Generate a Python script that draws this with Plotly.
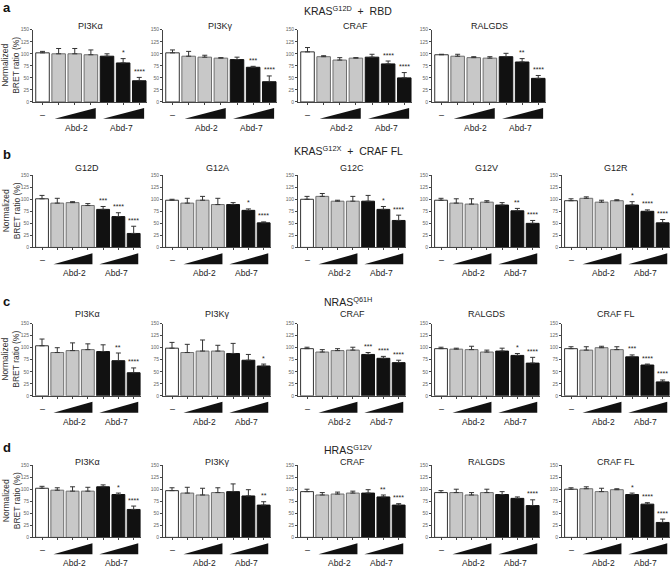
import plotly.graph_objects as go

W, H = 672, 576

# ---------------- data ----------------
conditions = ["ctrl", "Abd-2 low", "Abd-2 mid", "Abd-2 high", "Abd-7 low", "Abd-7 mid", "Abd-7 high"]

# row a: KRAS G12D + RBD
a_pi3ka = [102, 100, 100, 98, 95, 81, 44]
a_pi3ka_err = [3, 11, 11, 10, 5, 9, 7]
a_pi3ka_sig = ["", "", "", "", "", "*", "****"]
a_pi3kg = [102, 95, 93, 91, 88, 72, 42]
a_pi3kg_err = [6, 10, 4, 1, 5, 2, 12]
a_pi3kg_sig = ["", "", "", "", "", "***", "****"]
a_craf = [104, 94, 87, 91, 93, 79, 50]
a_craf_err = [9, 2, 5, 1, 6, 6, 11]
a_craf_sig = ["", "", "", "", "", "****", "****"]
a_ralgds = [98, 95, 92, 91, 94, 83, 49]
a_ralgds_err = [1, 4, 2, 3, 7, 7, 6]
a_ralgds_sig = ["", "", "", "", "", "**", "****"]

# row b: KRAS G12X + CRAF FL
b_g12d = [101, 92, 93, 87, 79, 64, 29]
b_g12d_err = [7, 10, 2, 4, 6, 8, 15]
b_g12d_sig = ["", "", "", "", "***", "****", "****"]
b_g12a = [98, 92, 98, 89, 89, 77, 51]
b_g12a_err = [2, 10, 8, 13, 4, 3, 2]
b_g12a_sig = ["", "", "", "", "", "*", "****"]
b_g12c = [100, 106, 96, 96, 96, 79, 56]
b_g12c_err = [6, 6, 2, 10, 12, 6, 11]
b_g12c_sig = ["", "", "", "", "", "*", "****"]
b_g12v = [98, 92, 90, 94, 88, 76, 50]
b_g12v_err = [4, 9, 11, 3, 5, 5, 6]
b_g12v_sig = ["", "", "", "", "", "**", "****"]
b_g12r = [97, 102, 94, 97, 88, 75, 51]
b_g12r_err = [4, 3, 4, 2, 7, 3, 7]
b_g12r_sig = ["", "", "", "", "*", "****", "****"]

# row c: NRAS Q61H
c_pi3ka = [104, 90, 94, 96, 92, 73, 48]
c_pi3ka_err = [14, 10, 16, 12, 14, 16, 10]
c_pi3ka_sig = ["", "", "", "", "", "**", "****"]
c_pi3kg = [99, 90, 93, 93, 88, 74, 62]
c_pi3kg_err = [12, 17, 23, 12, 21, 12, 4]
c_pi3kg_sig = ["", "", "", "", "", "", "*"]
c_craf = [98, 91, 94, 95, 86, 78, 69]
c_craf_err = [3, 5, 4, 6, 4, 4, 5]
c_craf_sig = ["", "", "", "", "***", "****", "****"]
c_ralgds = [98, 97, 96, 91, 93, 84, 68]
c_ralgds_err = [3, 2, 7, 4, 6, 4, 12]
c_ralgds_sig = ["", "", "", "", "", "*", "****"]
c_craffl = [98, 95, 100, 96, 81, 64, 29]
c_craffl_err = [4, 7, 3, 6, 4, 2, 4]
c_craffl_sig = ["", "", "", "", "***", "****", "****"]

# row d: HRAS G12V
d_pi3ka = [102, 98, 96, 96, 105, 89, 58]
d_pi3ka_err = [4, 5, 9, 8, 4, 3, 7]
d_pi3ka_sig = ["", "", "", "", "", "*", "****"]
d_pi3kg = [97, 92, 88, 93, 95, 86, 67]
d_pi3kg_err = [6, 12, 14, 10, 16, 13, 7]
d_pi3kg_sig = ["", "", "", "", "", "", "**"]
d_craf = [95, 88, 90, 92, 92, 84, 67]
d_craf_err = [5, 5, 4, 4, 7, 4, 3]
d_craf_sig = ["", "", "", "", "", "**", "****"]
d_ralgds = [93, 93, 88, 93, 89, 81, 66]
d_ralgds_err = [4, 7, 5, 7, 6, 3, 12]
d_ralgds_sig = ["", "", "", "", "", "", "****"]
d_craffl = [100, 101, 95, 99, 89, 69, 31]
d_craffl_err = [3, 4, 7, 2, 3, 3, 7]
d_craffl_sig = ["", "", "", "", "*", "****", "****"]

y_ticks = [0, 25, 50, 75, 100, 125, 150]

rows = [
    ("a", "KRAS<sup>G12D</sup>  +  RBD", [
        ("PI3Kα", a_pi3ka, a_pi3ka_err, a_pi3ka_sig),
        ("PI3Kγ", a_pi3kg, a_pi3kg_err, a_pi3kg_sig),
        ("CRAF", a_craf, a_craf_err, a_craf_sig),
        ("RALGDS", a_ralgds, a_ralgds_err, a_ralgds_sig)]),
    ("b", "KRAS<sup>G12X</sup>  +  CRAF FL", [
        ("G12D", b_g12d, b_g12d_err, b_g12d_sig),
        ("G12A", b_g12a, b_g12a_err, b_g12a_sig),
        ("G12C", b_g12c, b_g12c_err, b_g12c_sig),
        ("G12V", b_g12v, b_g12v_err, b_g12v_sig),
        ("G12R", b_g12r, b_g12r_err, b_g12r_sig)]),
    ("c", "NRAS<sup>Q61H</sup>", [
        ("PI3Kα", c_pi3ka, c_pi3ka_err, c_pi3ka_sig),
        ("PI3Kγ", c_pi3kg, c_pi3kg_err, c_pi3kg_sig),
        ("CRAF", c_craf, c_craf_err, c_craf_sig),
        ("RALGDS", c_ralgds, c_ralgds_err, c_ralgds_sig),
        ("CRAF FL", c_craffl, c_craffl_err, c_craffl_sig)]),
    ("d", "HRAS<sup>G12V</sup>", [
        ("PI3Kα", d_pi3ka, d_pi3ka_err, d_pi3ka_sig),
        ("PI3Kγ", d_pi3kg, d_pi3kg_err, d_pi3kg_sig),
        ("CRAF", d_craf, d_craf_err, d_craf_sig),
        ("RALGDS", d_ralgds, d_ralgds_err, d_ralgds_sig),
        ("CRAF FL", d_craffl, d_craffl_err, d_craffl_sig)]),
]

# ---------------- layout geometry (pixels) ----------------
row_bottom = [100, 247, 397, 540]
row_title_y = [23, 167, 314, 464]
row_heading_y = [8, 149, 302, 451]
row_letter_y = [5, 153, 302, 449]
row_panel_w = [114, 108, 108, 108]
plot_h = 73
panel_left = [33, 163, 298, 432, 562]
heading_x = 348

FONT = "Liberation Sans, Arial, Helvetica, sans-serif"
fill_colors = ["#ffffff", "#c8c8c8", "#c8c8c8", "#c8c8c8", "#111111", "#111111", "#111111"]
line_colors = ["#333333", "#6e6e6e", "#6e6e6e", "#6e6e6e", "#111111", "#111111", "#111111"]

xs = list(range(len(conditions)))

fig = go.Figure()
annotations = []
shapes = []
layout = {}

def px(v):
    return min(max(v / W, 0.0), 1.0)

def py(v):
    return 1 - v / H

idx = 0
for r, (letter, heading, panels) in enumerate(rows):
    bot = row_bottom[r]
    top = bot - plot_h
    panel_w = row_panel_w[r]
    annotations.append(dict(text="<b>%s</b>" % letter, x=px(1), y=py(row_letter_y[r]), xref="paper", yref="paper",
                            xanchor="left", yanchor="middle", showarrow=False, font=dict(size=13, color="#111")))
    annotations.append(dict(text=heading, x=px(heading_x), y=py(row_heading_y[r]), xref="paper", yref="paper",
                            xanchor="center", yanchor="middle", showarrow=False, font=dict(size=10.5, color="#222")))
    annotations.append(dict(text="Normalized<br>BRET ratio (%)", x=px(11), y=py(bot - plot_h / 2), xref="paper", yref="paper",
                            xanchor="center", yanchor="middle", textangle=-90, showarrow=False,
                            font=dict(size=8.5, color="#333")))
    for p, (title, vals, errs, sigs) in enumerate(panels):
        idx += 1
        xn = "x" if idx == 1 else "x%d" % idx
        yn = "y" if idx == 1 else "y%d" % idx
        x0 = panel_left[p]
        layout["xaxis" if idx == 1 else "xaxis%d" % idx] = dict(
            domain=[px(x0), px(x0 + panel_w)], anchor=yn, range=[-0.59, 6.48],
            showline=True, linecolor="#444", linewidth=1, ticks="outside", ticklen=2, tickwidth=0.8,
            tickcolor="#444", tickvals=xs, showticklabels=False, showgrid=False, zeroline=False)
        layout["yaxis" if idx == 1 else "yaxis%d" % idx] = dict(
            domain=[py(bot), py(top)], anchor=xn, range=[0, 150], tickvals=y_ticks,
            showline=True, linecolor="#444", linewidth=1, ticks="outside", ticklen=2, tickwidth=0.8,
            tickcolor="#444", tickfont=dict(size=5, color="#666", family=FONT), showgrid=False, zeroline=False)
        fig.add_trace(go.Bar(
            x=xs, y=vals, xaxis=xn, yaxis=yn, width=0.84,
            marker=dict(color=fill_colors, line=dict(color=line_colors, width=1)),
            error_y=dict(type="data", array=errs, arrayminus=[0] * len(errs), symmetric=False,
                         color="#333", thickness=1, width=2.5),
            showlegend=False, hoverinfo="skip"))
        annotations.append(dict(text=title, x=px(x0 + panel_w / 2), y=py(row_title_y[r]), xref="paper", yref="paper",
                                xanchor="center", yanchor="middle", showarrow=False,
                                font=dict(size=9, color="#222")))
        for k, s in enumerate(sigs):
            if s:
                annotations.append(dict(text=s, x=xs[k], y=vals[k] + errs[k] + 1, xref=xn, yref=yn,
                                        xanchor="center", yanchor="bottom", showarrow=False,
                                        font=dict(size=7, color="#222")))
        annotations.append(dict(text="–", x=0, y=py(bot + 13), xref=xn, yref="paper", xanchor="center",
                                yanchor="middle", showarrow=False, font=dict(size=9, color="#222")))
        annotations.append(dict(text="Abd-2", x=2.1, y=py(bot + 26), xref=xn, yref="paper", xanchor="center",
                                yanchor="middle", showarrow=False, font=dict(size=8.5, color="#222")))
        annotations.append(dict(text="Abd-7", x=4.9, y=py(bot + 26), xref=xn, yref="paper", xanchor="center",
                                yanchor="middle", showarrow=False, font=dict(size=8.5, color="#222")))
        for (wa, wb) in [(0.75, 3.3), (3.75, 6.3)]:
            yb = py(bot + 17)
            yt = py(bot + 6)
            shapes.append(dict(type="path", xref=xn, yref="paper",
                               path="M %f,%f L %f,%f L %f,%f Z" % (wa, yb, wb, yb, wb, yt),
                               fillcolor="#111", line=dict(width=0)))

fig.update_layout(
    width=W, height=H, margin=dict(l=0, r=0, t=0, b=0),
    paper_bgcolor="white", plot_bgcolor="white",
    font=dict(family=FONT, color="#222"),
    annotations=annotations, shapes=shapes, bargap=0.15,
    **layout)

fig.write_html("out.html", config={"displayModeBar": False},
               post_script="document.body.style.margin='0';document.body.style.overflow='hidden';")
